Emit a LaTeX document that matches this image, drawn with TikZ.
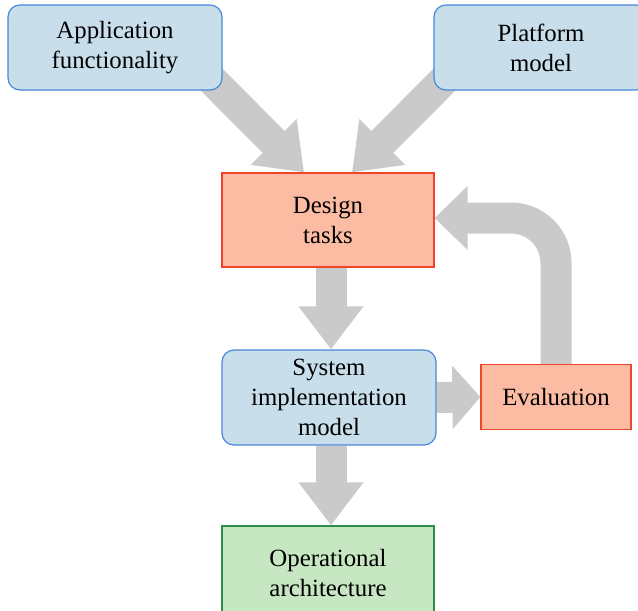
\documentclass[tikz,border=0pt]{standalone}
\usepackage{fontspec}
\setmainfont{Liberation Serif}
\usetikzlibrary{arrows.meta,positioning,backgrounds}

\definecolor{modelfill}{RGB}{200,223,235}
\definecolor{modeldraw}{RGB}{74,134,216}
\definecolor{taskfill}{RGB}{252,188,164}
\definecolor{taskdraw}{RGB}{242,68,40}
\definecolor{archfill}{RGB}{199,231,194}
\definecolor{archdraw}{RGB}{46,140,80}
\definecolor{flowgray}{RGB}{202,202,202}

\tikzset{
  box/.style={align=center, inner sep=0pt, line width=0.6pt, font=\fontsize{12.4}{15}\selectfont},
  model/.style={box, rounded corners=6pt, fill=modelfill, draw=modeldraw},
  task/.style={box, fill=taskfill, draw=taskdraw},
  arch/.style={box, fill=archfill, draw=archdraw},
  flow/.style={draw=flowgray, line width=15.5pt, -{Triangle[width=31pt,length=#1]}},
  flow/.default=21.5pt,
}

\begin{document}
\begin{tikzpicture}[x=0.5pt, y=-0.5pt]
\path [use as bounding box, clip] (0,0) rectangle (638,611);
% inputs
\node (app) at (115,47.5) [model, minimum width=107pt, minimum height=42.5pt] {Application\\functionality};
\node (plat) at (541,47.5) [model, minimum width=107pt, minimum height=42.5pt] {Platform\\model};
% design loop
\node (design) at (328,220) [task, minimum width=106pt, minimum height=47pt] {Design\\tasks};
\node (system) at (329,397.5) [model, minimum width=107pt, minimum height=47.5pt] {System\\implementation\\model};
\node (eval) at (556,397) [task, minimum width=75pt, minimum height=32.5pt] {Evaluation};
% result
\node (oper) at (328,573) [arch, minimum width=106pt, minimum height=47pt] {Operational\\architecture};
\begin{scope}[on background layer]
\draw [flow] ([shift={(-9pt,9pt)}]app.south east) -- ([xshift=-12pt]design.north);
\draw [flow] ([shift={(9pt,9pt)}]plat.south west) -- ([xshift=12pt]design.north);
\draw [flow] ([xshift=1.5pt]design.south) -- ([xshift=1.5pt]design.south |- system.north);
\draw [flow] ([xshift=1.5pt]design.south |- system.south) -- ([xshift=1.5pt]design.south |- oper.north);
\draw [flow=14pt] (system.east) -- (eval.west);
\draw [flow=16.5pt, rounded corners=22.5pt] (eval.north) |- ([yshift=1pt]design.east);
\end{scope}
\end{tikzpicture}
\end{document}
